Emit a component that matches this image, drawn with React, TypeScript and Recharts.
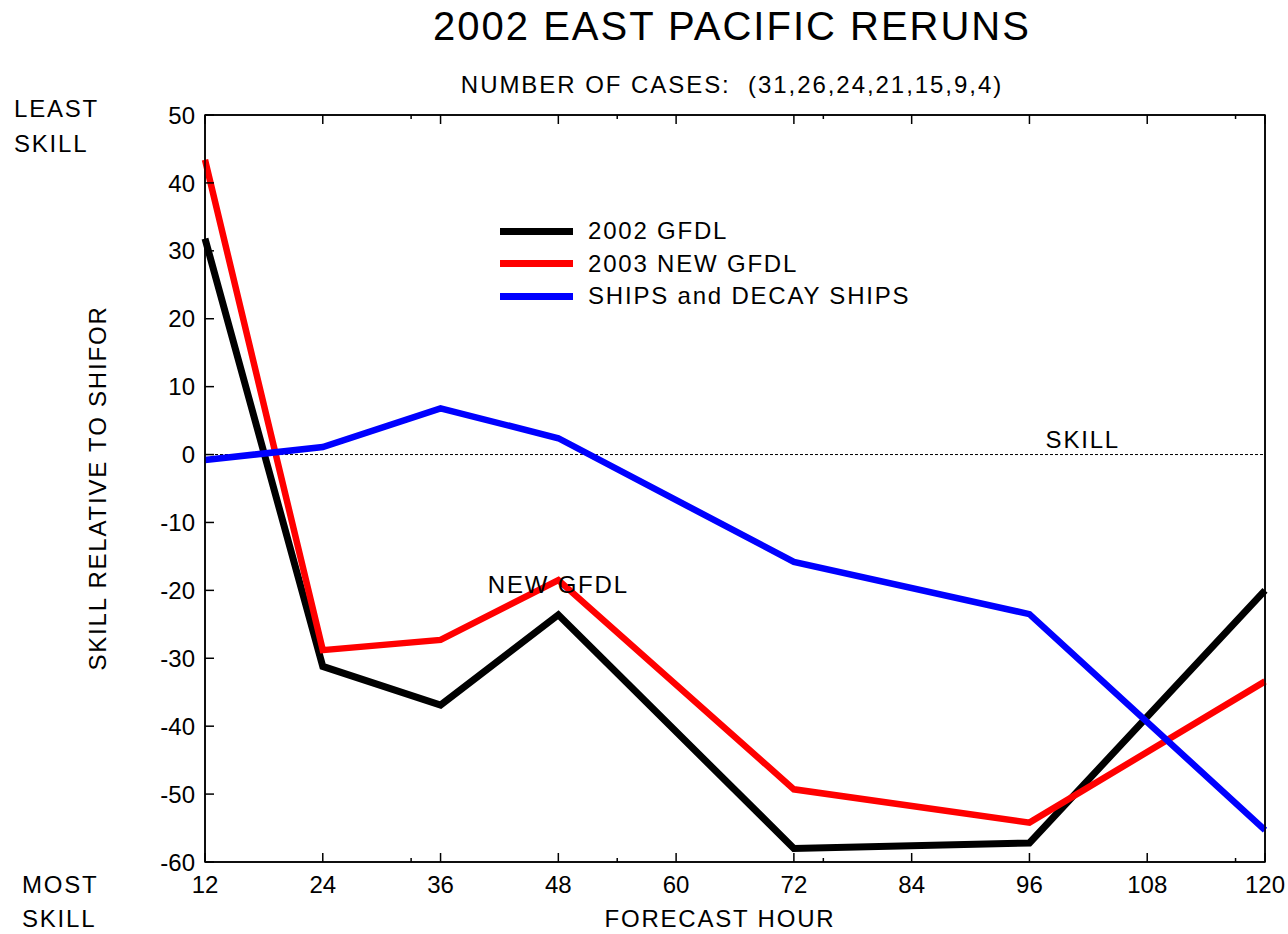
import React from 'react'
import { LineChart, Line, XAxis, YAxis, ReferenceLine, ReferenceArea, ReferenceDot, Legend } from 'recharts'

const hours = [12, 24, 36, 48, 72, 96, 120]
const gfdl2002 = [31.8, -31.2, -36.9, -23.6, -58.0, -57.2, -20.0]
const gfdl2003 = [43.4, -28.8, -27.3, -18.5, -49.3, -54.2, -33.4]
const ships = [-0.8, 1.1, 6.8, 2.4, -15.8, -23.5, -55.3]
const xTicks = [12, 24, 36, 48, 60, 72, 84, 96, 108, 120]
const xMinorTicks = [33, 54, 75, 117]
const yTicks = [-60, -50, -40, -30, -20, -10, 0, 10, 20, 30, 40, 50]

const data = hours.map((h, i) => ({ hour: h, g02: gfdl2002[i], g03: gfdl2003[i], ships: ships[i] }))
const allXTicks = [...xTicks, ...xMinorTicks].sort((a, b) => a - b)

const FONT = '"Liberation Sans", Arial, Helvetica, sans-serif'
const TICK_MARGIN = 8
const TICK_LEN = 9
const MINOR_LEN = 4

const XTick = ({ x, y, payload }: any) => {
  const major = xTicks.includes(payload.value)
  const base = y - TICK_MARGIN
  return (
    <g>
      <line x1={x} x2={x} y1={base} y2={base - (major ? TICK_LEN : MINOR_LEN)} stroke="#000" strokeWidth={1.5} />
      {major && (
        <text x={x} y={y + 23} textAnchor="middle" fontSize={24} fontFamily={FONT} fill="#000">
          {payload.value}
        </text>
      )}
    </g>
  )
}

const XTickTop = ({ x, y, payload }: any) => {
  const major = xTicks.includes(payload.value)
  const base = y + TICK_MARGIN
  return <line x1={x} x2={x} y1={base} y2={base + (major ? TICK_LEN : MINOR_LEN)} stroke="#000" strokeWidth={1.5} />
}

const YTickLeft = ({ x, y, payload }: any) => (
  <g>
    <line x1={x + TICK_MARGIN} x2={x + TICK_MARGIN + TICK_LEN} y1={y} y2={y} stroke="#000" strokeWidth={1.5} />
    <text x={x - 2} y={y} dy="0.36em" textAnchor="end" fontSize={24} fontFamily={FONT} fill="#000">
      {payload.value}
    </text>
  </g>
)

const YTickRight = ({ x, y }: any) => (
  <line x1={x - TICK_MARGIN} x2={x - TICK_MARGIN - TICK_LEN} y1={y} y2={y} stroke="#000" strokeWidth={1.5} />
)

const LegendBox = ({ payload }: any) => (
  <div style={{ display: 'flex', flexDirection: 'column' }}>
    {(payload || []).map((p: any) => (
      <div key={p.value} style={{ display: 'flex', alignItems: 'center', height: 32.5 }}>
        <div style={{ width: 73, height: 7, background: p.color }} />
        <span style={{ marginLeft: 15, fontSize: 24, letterSpacing: 1.8, fontFamily: FONT, color: '#000' }}>{p.value}</span>
      </div>
    ))}
  </div>
)

const txt = { fontFamily: FONT, fill: '#000', letterSpacing: 1.8 } as any

export default function App() {
  return (
    <div style={{ position: 'absolute', left: 0, top: 0, width: 1288, height: 934, background: '#fff' }}>
      <LineChart width={1288} height={934} data={data} margin={{ top: 105, right: 13, bottom: 32, left: 145 }}>
        <XAxis
          dataKey="hour"
          type="number"
          domain={[12, 120]}
          ticks={allXTicks}
          interval={0}
          height={40}
          tickSize={0}
          tickMargin={TICK_MARGIN}
          tickLine={false}
          tick={<XTick />}
          axisLine={{ stroke: '#000', strokeWidth: 1.5 }}
        />
        <XAxis
          xAxisId="top"
          orientation="top"
          dataKey="hour"
          type="number"
          domain={[12, 120]}
          ticks={allXTicks}
          interval={0}
          height={10}
          tickSize={0}
          tickMargin={TICK_MARGIN}
          tickLine={false}
          tick={<XTickTop />}
          axisLine={{ stroke: '#000', strokeWidth: 1.5 }}
        />
        <YAxis
          type="number"
          domain={[-60, 50]}
          ticks={yTicks}
          interval={0}
          width={60}
          tickSize={0}
          tickMargin={TICK_MARGIN}
          tickLine={false}
          tick={<YTickLeft />}
          axisLine={{ stroke: '#000', strokeWidth: 1.5 }}
        />
        <YAxis
          yAxisId="right"
          orientation="right"
          type="number"
          domain={[-60, 50]}
          ticks={yTicks}
          interval={0}
          width={10}
          tickSize={0}
          tickMargin={TICK_MARGIN}
          tickLine={false}
          tick={<YTickRight />}
          axisLine={{ stroke: '#000', strokeWidth: 1.5 }}
        />
        <ReferenceArea x1={12} x2={120} y1={-60} y2={50} fill="none" stroke="#000" strokeWidth={1.5} fillOpacity={0} />
        <ReferenceLine
          y={0}
          stroke="#000"
          strokeWidth={1}
          strokeDasharray="3 2"
          label={(props: any) => {
            const vb = props.viewBox
            return (
              <text x={vb.x + vb.width - 145} y={vb.y - 7} textAnchor="end" fontSize={24} {...txt}>
                SKILL
              </text>
            )
          }}
        />
        <Legend
          layout="vertical"
          align="center"
          verticalAlign="middle"
          content={<LegendBox />}
          wrapperStyle={{ left: 500, top: 215, width: 'auto', height: 'auto' }}
        />
        <Line dataKey="g02" name="2002 GFDL" stroke="#000000" strokeWidth={7} dot={false} isAnimationActive={false} />
        <Line dataKey="g03" name="2003 NEW GFDL" stroke="#ff0000" strokeWidth={6.5} dot={false} isAnimationActive={false} />
        <Line dataKey="ships" name="SHIPS and DECAY SHIPS" stroke="#0000ff" strokeWidth={6.5} dot={false} isAnimationActive={false} />
        <ReferenceDot
          x={48}
          y={gfdl2003[3]}
          r={0}
          fill="none"
          stroke="none"
          label={(props: any) => {
            const vb = props.viewBox
            return (
              <text x={vb.x + (vb.width || 0) / 2} y={vb.y + (vb.height || 0) / 2 + 13} textAnchor="middle" fontSize={24} {...txt}>
                NEW GFDL
              </text>
            )
          }}
        />
      </LineChart>
      <svg width={1288} height={934} style={{ position: 'absolute', left: 0, top: 0, pointerEvents: 'none' }}>
        <text x={732} y={40} textAnchor="middle" fontSize={40} {...txt} letterSpacing={2}>
          2002 EAST PACIFIC RERUNS
        </text>
        <text x={732} y={93} textAnchor="middle" fontSize={24} {...txt} letterSpacing={1.95} xmlSpace="preserve">
          {'NUMBER OF CASES:  (31,26,24,21,15,9,4)'}
        </text>
        <text x={14} y={117} fontSize={24} {...txt}>LEAST</text>
        <text x={14} y={152} fontSize={24} {...txt}>SKILL</text>
        <text x={22} y={893} fontSize={24} {...txt}>MOST</text>
        <text x={22} y={927} fontSize={24} {...txt}>SKILL</text>
        <text transform="translate(106,488) rotate(-90)" x={0} y={0} textAnchor="middle" fontSize={24} {...txt}>
          SKILL RELATIVE TO SHIFOR
        </text>
        <text x={720} y={927} textAnchor="middle" fontSize={24} {...txt}>FORECAST HOUR</text>
      </svg>
    </div>
  )
}
